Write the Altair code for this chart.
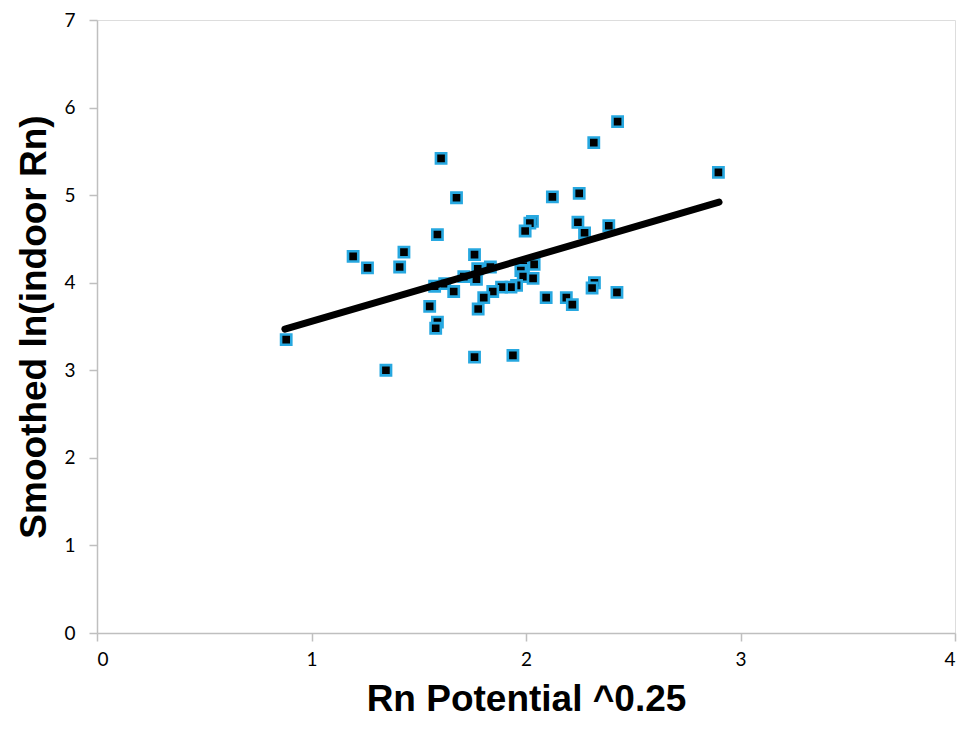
import altair as alt
import pandas as pd

rn_potential = [2.427, 2.316, 1.604, 1.676, 2.123, 2.248, 2.030, 2.018, 1.996, 2.242,
                2.273, 2.386, 1.587, 1.194, 1.431, 1.261, 1.411, 1.760, 1.775, 1.834,
                1.769, 1.710, 1.621, 1.574, 1.663, 1.987, 2.038, 1.976, 1.987, 2.033,
                1.956, 1.930, 1.886, 1.845, 1.803, 2.094, 2.188, 2.216, 2.319, 2.308,
                2.424, 1.551, 1.777, 1.587, 1.579, 0.882, 1.760, 1.939, 1.347, 2.897]
indoor_rn = [5.84, 5.60, 5.42, 4.97, 4.98, 5.02, 4.70, 4.68, 4.59, 4.69,
             4.57, 4.65, 4.55, 4.30, 4.35, 4.17, 4.18, 4.32, 4.16, 4.18,
             4.04, 4.07, 3.99, 3.96, 3.90, 4.19, 4.21, 4.14, 4.07, 4.05,
             3.97, 3.95, 3.95, 3.90, 3.83, 3.83, 3.83, 3.75, 4.00, 3.94,
             3.89, 3.73, 3.70, 3.55, 3.48, 3.35, 3.15, 3.17, 3.00, 5.26]

trend_x = [0.876, 2.900]
trend_y = [3.47, 4.92]

points = pd.DataFrame({"x": rn_potential, "y": indoor_rn})
trend = pd.DataFrame({"x": trend_x, "y": trend_y})

xscale = alt.Scale(domain=[0, 4], nice=False, zero=False)
yscale = alt.Scale(domain=[0, 7], nice=False, zero=False)

axis_common = dict(
    domainColor="#BFBFBF", tickColor="#BFBFBF", grid=False,
    labelFont="Lato", labelFontSize=19, labelColor="#000000",
    titleFont="Liberation Sans", titleFontSize=37, titleFontWeight="bold",
    titleColor="#000000", domainWidth=1.5, tickWidth=1.5,
)

x_enc = alt.X("x:Q", scale=xscale,
              axis=alt.Axis(title="Rn Potential ^0.25", values=[0, 1, 2, 3, 4],
                            format="d", tickSize=8, labelPadding=9, titlePadding=12,
                            **axis_common))
y_enc = alt.Y("y:Q", scale=yscale,
              axis=alt.Axis(title="Smoothed ln(indoor Rn)", values=[0, 1, 2, 3, 4, 5, 6, 7],
                            format="d", tickSize=8, labelPadding=14, titlePadding=10,
                            **axis_common))

pts = alt.Chart(points).mark_point(
    shape="square", filled=True, fill="#000000", stroke="#27A8E0",
    strokeWidth=2.6, size=105, opacity=1
).encode(x=x_enc, y=y_enc)

line = alt.Chart(trend).mark_line(color="#000000", strokeWidth=7, strokeCap="round").encode(
    x=alt.X("x:Q", scale=xscale), y=alt.Y("y:Q", scale=yscale))

chart = alt.layer(pts, line).properties(
    width=858, height=613,
    autosize=alt.AutoSizeParams(type="none"),
    padding={"left": 89, "top": 12, "right": 6, "bottom": 89},
).configure_view(stroke=None).configure(background="#FFFFFF")

chart.save("out.html", embed_options={"renderer": "svg", "actions": False})
